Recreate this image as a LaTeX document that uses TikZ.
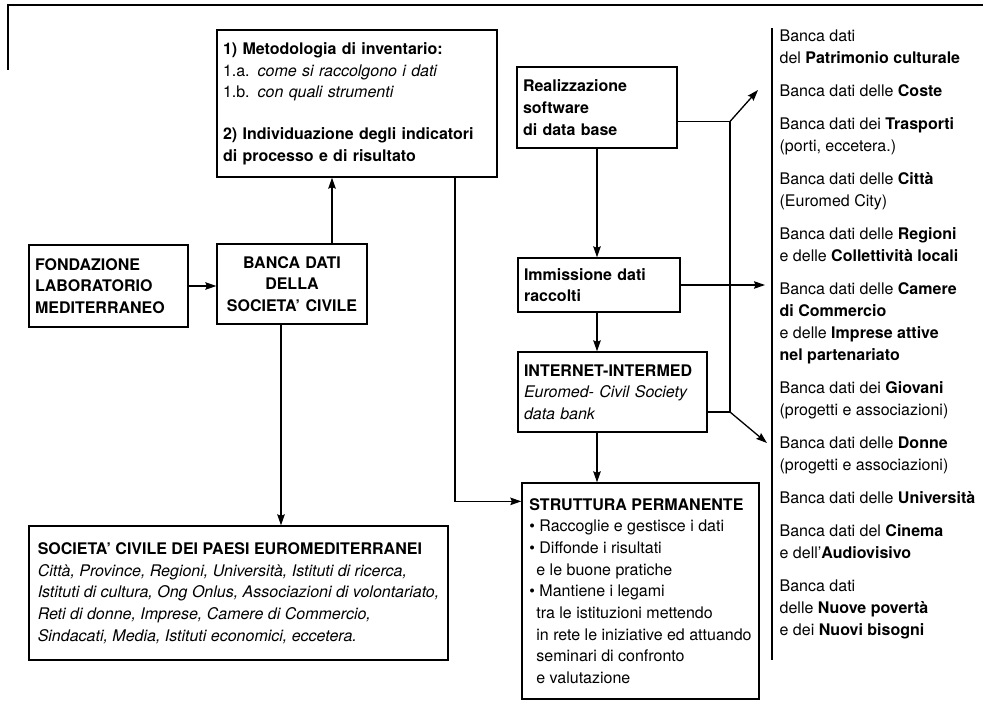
\documentclass[tikz,border=0pt]{standalone}
\usepackage{fontspec}
\setmainfont{TeX Gyre Heros}
\usetikzlibrary{arrows.meta}

\begin{document}
\begin{tikzpicture}[x=1pt, y=-1pt, line width=1.3pt,
  box/.style={draw, rectangle, inner xsep=6pt, inner ysep=0pt, align=left,
    font=\fontsize{16}{21.7}\selectfont},
  bbox/.style={box, font={\fontsize{16}{21.7}\selectfont\bfseries}},
  arr/.style={-{Stealth[length=11pt,width=7.5pt,inset=1.5pt]}}]
\useasboundingbox (0,0) rectangle (983,701);
% frame and separator
\draw (8,70) -- (8,5) -- (983,5);
\draw (772,28) -- (772,660);
% boxes
\node[box, text width=268pt, minimum height=147pt] (metod) at (357,103.5)
  {\textbf{1) Metodologia di inventario:}\\
   1.a. \textit{come si raccolgono i dati}\\
   1.b. \textit{con quali strumenti}\\[20pt]
   \textbf{2) Individuazione degli indicatori}\\
   \textbf{di processo e di risultato}};
\node[bbox, text width=147pt, minimum height=82pt] (fond) at (108.5,286)
  {FONDAZIONE\\LABORATORIO\\MEDITERRANEO};
\node[bbox, align=center, text width=138pt, minimum height=80pt] (banca) at (292,284)
  {BANCA DATI\\DELLA\\SOCIETA' CIVILE};
\node[box, minimum width=419pt, minimum height=134pt] (socie) at (238.5,593)
  {\textbf{SOCIETA' CIVILE DEI PAESI EUROMEDITERRANEI}\\
   \textit{Città, Province, Regioni, Università, Istituti di ricerca,}\\
   \textit{Istituti di cultura, Ong Onlus, Associazioni di volontariato,}\\
   \textit{Reti di donne, Imprese, Camere di Commercio,}\\
   \textit{Sindacati, Media, Istituti economici, eccetera.}};
\node[bbox, text width=148pt, minimum height=81pt] (realiz) at (597,107.5)
  {Realizzazione\\software\\di data base};
\node[bbox, text width=150pt, minimum height=54pt] (immis) at (599,285)
  {Immissione dati\\raccolti};
\node[box, text width=177pt, minimum height=80pt] (inter) at (612.5,392)
  {\textbf{INTERNET-INTERMED}\\
   \textit{Euromed- Civil Society}\\
   \textit{data bank}};
\node[box, minimum width=237pt, minimum height=216pt] (strut) at (640.5,591)
  {\textbf{STRUTTURA PERMANENTE}\\
   \textbullet\ Raccoglie e gestisce i dati\\
   \textbullet\ Diffonde i risultati\\
   \hspace*{7pt}e le buone pratiche\\
   \textbullet\ Mantiene i legami\\
   \hspace*{7pt}tra le istituzioni mettendo\\
   \hspace*{7pt}in rete le iniziative ed attuando\\
   \hspace*{7pt}seminari di confronto\\
   \hspace*{7pt}e valutazione};
% list of the data banks
\node[anchor=north west, inner sep=0pt, align=left,
  font=\fontsize{16}{22}\selectfont] (bdlist) at (779,29)
  {Banca dati\\
   del \textbf{Patrimonio culturale}\\[11pt]
   Banca dati delle \textbf{Coste}\\[11pt]
   Banca dati dei \textbf{Trasporti}\\
   (porti, eccetera.)\\[11pt]
   Banca dati delle \textbf{Città}\\
   (Euromed City)\\[11pt]
   Banca dati delle \textbf{Regioni}\\
   e delle \textbf{Collettività locali}\\[11pt]
   Banca dati delle \textbf{Camere}\\
   \textbf{di Commercio}\\
   e delle \textbf{Imprese attive}\\
   \textbf{nel partenariato}\\[11pt]
   Banca dati dei \textbf{Giovani}\\
   (progetti e associazioni)\\[11pt]
   Banca dati delle \textbf{Donne}\\
   (progetti e associazioni)\\[11pt]
   Banca dati delle \textbf{Università}\\[11pt]
   Banca dati del \textbf{Cinema}\\
   e dell'\textbf{Audiovisivo}\\[11pt]
   Banca dati\\
   delle \textbf{Nuove povertà}\\
   e dei \textbf{Nuovi bisogni}};
\coordinate (j1) at (730,121.5);
\coordinate (j2) at (730,412);
\coordinate (t1) at (758,90);
\coordinate (t2) at (765,285);
\coordinate (t3) at (767,443);
% connectors
\draw[arr] (fond.east) -- (fond.east -| banca.west);
\draw[arr] ([xshift=40pt]banca.north) -- ([xshift=40pt]banca.north |- metod.south);
\draw[arr] ([xshift=-11pt]banca.south) -- ([xshift=-11pt]banca.south |- socie.north);
\draw[arr] ([xshift=98pt]metod.south) |- ([yshift=-19pt]strut.north west);
\draw[arr] (realiz.south) -- (realiz.south |- immis.north);
\draw[arr] (immis.south -| realiz.south) -- (realiz.south |- inter.north);
\draw[arr] (inter.south -| realiz.south) -- (realiz.south |- strut.north);
\draw[arr] (immis.east) -- (t2);
\draw ([yshift=-14pt]realiz.east) -| (j2) -- ([yshift=-20pt]inter.east);
\draw[arr] (j1) -- (t1);
\draw[arr] (j2) -- (t3);
\end{tikzpicture}
\end{document}
